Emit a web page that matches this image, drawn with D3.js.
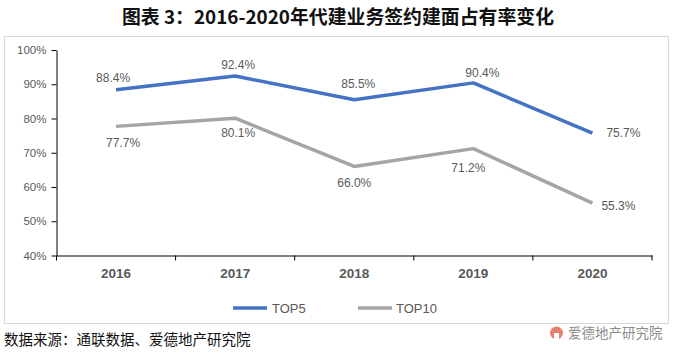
<!DOCTYPE html>
<html><head><meta charset="utf-8">
<script src="https://cdn.jsdelivr.net/npm/d3@7"></script>
<style>body{margin:0;background:#fff;}svg{display:block;}</style>
</head><body>
<svg id="c" width="676" height="353"></svg>
<script>
const categories = ["2016","2017","2018","2019","2020"];
const top5 = [88.4, 92.4, 85.5, 90.4, 75.7];
const top10 = [77.7, 80.1, 66.0, 71.2, 55.3];
const yTicks = [40,50,60,70,80,90,100];
const seriesNames = ["TOP5","TOP10"];
// label offsets (layout only)
const off5 = [[-3,-12],[3,-11],[4,-16],[9,-10],[31,0]];
const off10 = [[7,16],[3,15],[0,16],[-5,19],[26,3]];

const svg = d3.select("#c");
const L=56.5, R=652, T=50, B=255.5;
const x = d3.scaleBand().domain(categories).range([L,R]).padding(0);
const y = d3.scaleLinear().domain([40,100]).range([B,T]);
const grey="#595959";

// frame
svg.append("rect").attr("x",4.5).attr("y",36.5).attr("width",664).attr("height",287)
  .attr("fill","#fff").attr("stroke","#d9d9d9").attr("stroke-width",1);

// title
svg.append("text").attr("x",338).attr("y",24).attr("text-anchor","middle")
  .attr("font-family","'Noto Sans CJK SC'").attr("font-weight","bold").attr("font-size",19)
  .attr("fill","#111").attr("textLength",432).attr("lengthAdjust","spacingAndGlyphs")
  .text("图表 3：2016-2020年代建业务签约建面占有率变化");

// y axis
const ya = svg.append("g").attr("transform",`translate(${L},0)`)
  .call(d3.axisLeft(y).tickValues(yTicks).tickFormat(d=>d+"%").tickSize(5).tickSizeOuter(0).tickPadding(5));
ya.select(".domain").attr("stroke","#000");
ya.selectAll(".tick line").attr("stroke","#000");
ya.selectAll("text").attr("font-family","'Liberation Sans'").attr("font-size",11.5).attr("fill",grey);

// x axis
const xa = svg.append("g").attr("transform",`translate(0,${B})`)
  .call(d3.axisBottom(x).tickSize(0).tickSizeOuter(0).tickPadding(12.5));
xa.select(".domain").attr("stroke","#000");
xa.selectAll("text").attr("font-family","'Liberation Sans'").attr("font-weight","bold").attr("font-size",13.5).attr("fill",grey);
const bounds = categories.map(c=>x(c)).concat([R]);
svg.append("g").selectAll("line").data(bounds).join("line")
  .attr("x1",d=>d).attr("x2",d=>d).attr("y1",B).attr("y2",B+5).attr("stroke","#000");

const colors = ["#4472C4","#A5A5A5"];
const line = d3.line().x((d,i)=>x(categories[i])+x.bandwidth()/2).y(d=>y(d));
[top5, top10].forEach((s,k)=>{
  svg.append("path").datum(s).attr("d",line).attr("fill","none")
    .attr("stroke",colors[k]).attr("stroke-width",3.5).attr("stroke-linejoin","round");
});
function labels(s, off){
  svg.append("g").selectAll("text").data(s).join("text")
    .attr("x",(d,i)=>x(categories[i])+x.bandwidth()/2+off[i][0])
    .attr("y",(d,i)=>y(d)+off[i][1])
    .attr("dy","0.35em").attr("text-anchor","middle")
    .attr("font-family","'Liberation Sans'").attr("font-size",12).attr("fill",grey)
    .text(d=>d.toFixed(1)+"%");
}
labels(top5, off5);
labels(top10, off10);

// legend
const lg = [[233,272],[358,396]];
seriesNames.forEach((n,k)=>{
  svg.append("line").attr("x1",lg[k][0]).attr("x2",lg[k][0]+34).attr("y1",308).attr("y2",308)
    .attr("stroke",colors[k]).attr("stroke-width",3.5);
  svg.append("text").attr("x",lg[k][1]).attr("y",308).attr("dy","0.35em")
    .attr("font-family","'Liberation Sans'").attr("font-size",13).attr("fill",grey).text(n);
});

// source
svg.append("text").attr("x",4).attr("y",345)
  .attr("font-family","'Noto Sans CJK SC'").attr("font-size",14.5).attr("fill","#111")
  .text("数据来源：通联数据、爱德地产研究院");

// watermark
const wm = svg.append("g");
wm.append("circle").attr("cx",556.5).attr("cy",333).attr("r",6.5).attr("fill","#e8806f");
wm.append("rect").attr("x",554).attr("y",333).attr("width",5).attr("height",7).attr("fill","#fff");
wm.append("text").attr("x",568).attr("y",333).attr("dy","0.35em")
  .attr("font-family","'Noto Sans CJK SC'").attr("font-size",13.5).attr("fill","#8c8c8c")
  .text("爱德地产研究院");
</script>
</body></html>
